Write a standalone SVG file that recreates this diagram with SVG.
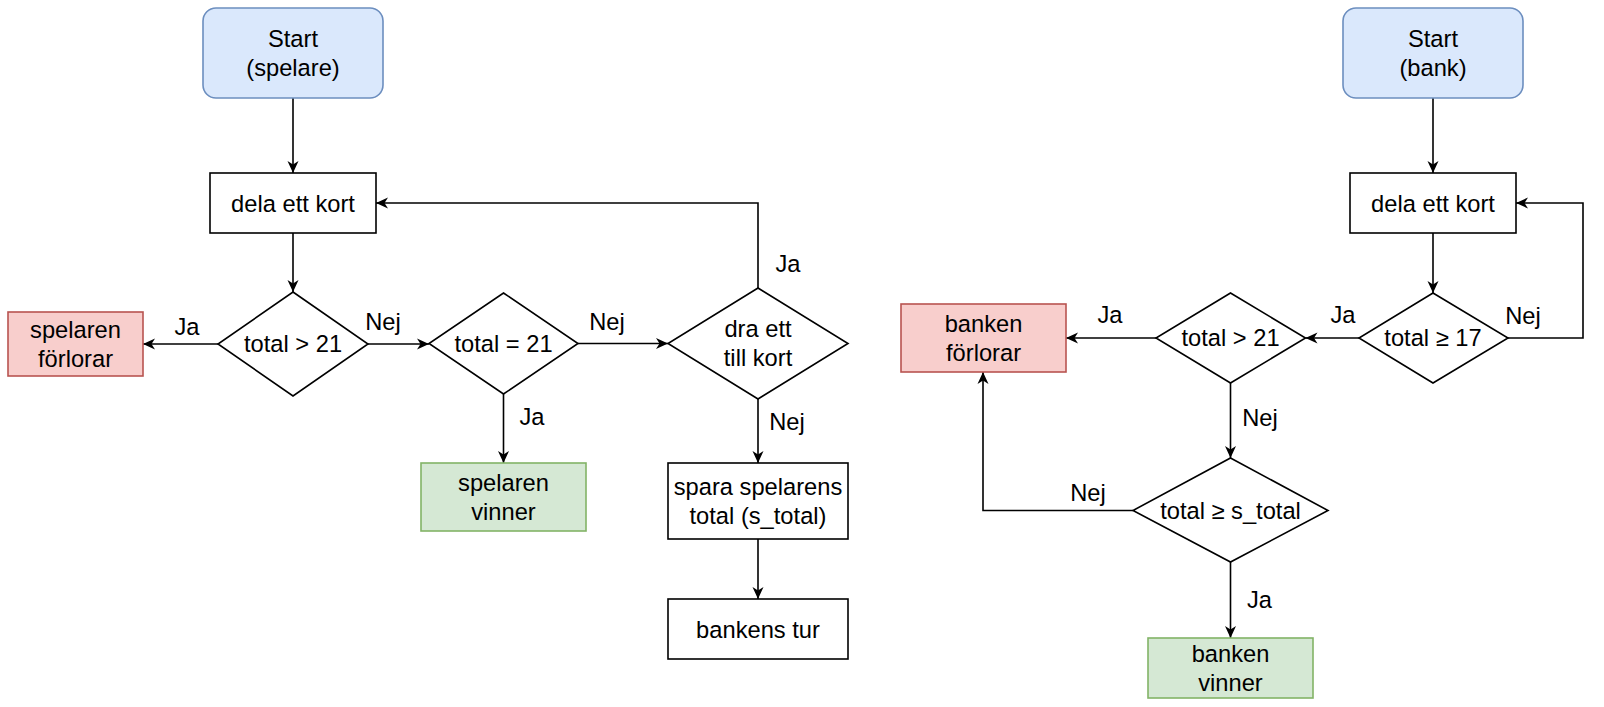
<svg xmlns="http://www.w3.org/2000/svg" width="1604" height="707" viewBox="0 0 1604 707">
<style>
text{font-family:"Liberation Sans",Arial,sans-serif;font-size:23.7px;fill:#000;text-anchor:middle}
.n{fill:#fff;stroke:#000;stroke-width:1.6}
.blue{fill:#dae8fc;stroke:#6c8ebf;stroke-width:1.6}
.red{fill:#f8cecc;stroke:#b85450;stroke-width:1.6}
.green{fill:#d5e8d4;stroke:#82b366;stroke-width:1.6}
.e{fill:none;stroke:#000;stroke-width:1.6;marker-end:url(#a)}
</style>
<defs>
<marker id="a" viewBox="0 0 12 12" refX="12" refY="6" markerWidth="12" markerHeight="12" markerUnits="userSpaceOnUse" orient="auto">
<path d="M0,0.5 L12,6 L0,11.5 L3.5,6 z" fill="#000"/>
</marker>
</defs>
<g id="connectors">
<path class="e" d="M293,98 L293,173"/>
<path class="e" d="M293,233 L293,292"/>
<path class="e" d="M218,344 L143,344"/>
<path class="e" d="M368,344 L429,344"/>
<path class="e" d="M578,343.5 L668,343.5"/>
<path class="e" d="M758,288 L758,203 L376,203"/>
<path class="e" d="M503.5,394 L503.5,463"/>
<path class="e" d="M758,399 L758,463"/>
<path class="e" d="M758,539 L758,599"/>
<path class="e" d="M1433,98 L1433,173"/>
<path class="e" d="M1433,233 L1433,293"/>
<path class="e" d="M1508,338 L1583,338 L1583,203 L1516,203"/>
<path class="e" d="M1359,338 L1305.5,338"/>
<path class="e" d="M1156,338 L1066,338"/>
<path class="e" d="M1230.5,383 L1230.5,458"/>
<path class="e" d="M1133,510.5 L983,510.5 L983,372"/>
<path class="e" d="M1230.5,562 L1230.5,638"/>
<text x="187" y="335">Ja</text>
<text x="383" y="330">Nej</text>
<text x="607" y="330">Nej</text>
<text x="788" y="272">Ja</text>
<text x="532" y="425">Ja</text>
<text x="787" y="430">Nej</text>
<text x="1523" y="324">Nej</text>
<text x="1343" y="323">Ja</text>
<text x="1110" y="323">Ja</text>
<text x="1260" y="426">Nej</text>
<text x="1088" y="501">Nej</text>
<text x="1259.5" y="608">Ja</text>
</g>
<g id="start-spelare"><rect class="blue" x="203" y="8" width="180" height="90" rx="13"/><text x="293" y="46.6">Start</text><text x="293" y="75.6">(spelare)</text></g>
<g id="dela-spelare"><rect class="n" x="210" y="173" width="166" height="60"/><text x="293" y="211.7">dela ett kort</text></g>
<g id="d-over21"><polygon class="n" points="293,292 368,344 293,396 218,344"/><text x="293" y="352">total &gt; 21</text></g>
<g id="spelaren-forlorar"><rect class="red" x="8" y="312" width="135" height="64"/><text x="75.5" y="337.6">spelaren</text><text x="75.5" y="366.6">förlorar</text></g>
<g id="d-eq21"><polygon class="n" points="503.5,293 578,343.5 503.5,394 429,343.5"/><text x="503.5" y="351.7">total = 21</text></g>
<g id="spelaren-vinner"><rect class="green" x="421" y="463" width="165" height="68"/><text x="503.5" y="490.6">spelaren</text><text x="503.5" y="519.6">vinner</text></g>
<g id="d-dra"><polygon class="n" points="758,288 848,343.5 758,399 668,343.5"/><text x="758" y="337.1">dra ett</text><text x="758" y="366.1">till kort</text></g>
<g id="spara"><rect class="n" x="668" y="463" width="180" height="76"/><text x="758" y="494.6">spara spelarens</text><text x="758" y="523.6">total (s_total)</text></g>
<g id="bankens-tur"><rect class="n" x="668" y="599" width="180" height="60"/><text x="758" y="637.7">bankens tur</text></g>
<g id="start-bank"><rect class="blue" x="1343" y="8" width="180" height="90" rx="13"/><text x="1433" y="46.6">Start</text><text x="1433" y="75.6">(bank)</text></g>
<g id="dela-bank"><rect class="n" x="1350" y="173" width="166" height="60"/><text x="1433" y="211.7">dela ett kort</text></g>
<g id="d-ge17"><polygon class="n" points="1433,293 1508,338 1433,383 1359,338"/><text x="1433" y="346.2">total ≥ 17</text></g>
<g id="d-bank-over21"><polygon class="n" points="1230.5,293 1305.5,338 1230.5,383 1156,338"/><text x="1230.5" y="346.2">total &gt; 21</text></g>
<g id="banken-forlorar"><rect class="red" x="901" y="304" width="165" height="68"/><text x="983.5" y="331.6">banken</text><text x="983.5" y="360.6">förlorar</text></g>
<g id="d-ge-stotal"><polygon class="n" points="1230.5,458 1328,510.5 1230.5,562 1133,510.5"/><text x="1230.5" y="518.7">total ≥ s_total</text></g>
<g id="banken-vinner"><rect class="green" x="1148" y="638" width="165" height="60"/><text x="1230.5" y="661.6">banken</text><text x="1230.5" y="690.6">vinner</text></g>
</svg>
